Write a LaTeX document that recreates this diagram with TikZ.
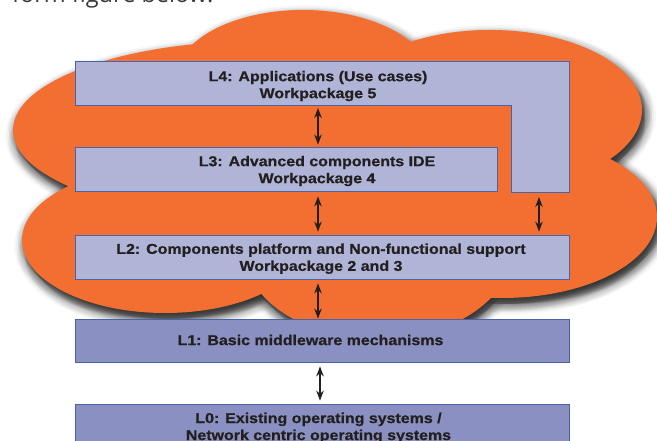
\documentclass[tikz,border=0pt]{standalone}
\usepackage{fontspec}
\newfontfamily\labfont{Liberation Sans}[FakeStretch=1.12, BoldFeatures={FakeBold=0.8}]
\newfontfamily\topfont{Open Sans}
\usetikzlibrary{arrows.meta}
\definecolor{orangec}{HTML}{F36F31}
\definecolor{lightbox}{HTML}{B0B5D7}
\definecolor{darkbox}{HTML}{8A91C2}
\definecolor{boxline}{HTML}{4A62A8}
\definecolor{txt}{HTML}{231F20}
\definecolor{topgray}{HTML}{3A3A3A}
\newcommand\cloudpath{%
  (303,78) ellipse [x radius=127, y radius=68]
  (260,130) ellipse [x radius=247, y radius=89]
  (490,110) ellipse [x radius=152, y radius=80]
  (502,217) ellipse [x radius=155, y radius=81]
  (165,240) ellipse [x radius=143, y radius=73]
  (378,250) ellipse [x radius=134, y radius=89]
  (340,175) ellipse [x radius=230, y radius=110]}
\begin{document}
\begin{tikzpicture}[x=1pt,y=-1pt,
  lbox/.style={draw=boxline, line width=0.8pt, inner sep=0pt, fill=lightbox},
  dbox/.style={lbox, fill=darkbox},
  anchorbox/.style={inner sep=0pt, outer sep=0pt},
  lab/.style={font=\labfont\bfseries\fontsize{14.25}{17}\selectfont, text=txt, align=center, inner sep=0pt},
  arr/.style={draw=txt, line width=1.5pt, {Stealth[length=10pt,width=7.5pt]}-{Stealth[length=10pt,width=7.5pt]}}]
\useasboundingbox (0,0) rectangle (657,441);
\clip (0,0) rectangle (657,441);
\fill[white] (0,0) rectangle (657,441);
% intro text (cut off at the top)
\node[anchor=base west, inner sep=0pt, font=\topfont\fontsize{23.5}{28}\selectfont, text=topgray] (intro) at (12,2.5) {form figure below:};
% cloud shadow
\foreach \a in {0,45,...,315}{
  \foreach \r in {1,3,5,7,9,11}{
    \fill[black, opacity=0.032, shift={({3+\r*cos(\a)},{6+\r*sin(\a)})}] \cloudpath;
  }
}
% cloud
\fill[orangec] \cloudpath;
% boxes
\node[anchorbox, minimum width=494pt, minimum height=44pt] (L4) at (322,83) {};
\node[anchorbox, minimum width=58pt, minimum height=131pt] (L4arm) at (540,126.5) {};
\path[lbox] (L4.north west) -- (L4arm.north east) -- (L4arm.south east) -- (L4arm.south west) -- (L4arm.west |- L4.south) -- (L4.south west) -- cycle;
\node[lbox, minimum width=422pt, minimum height=44pt] (L3) at (286,169) {};
\node[lbox, minimum width=494pt, minimum height=44pt] (L2) at (322,257) {};
\node[dbox, minimum width=494pt, minimum height=43pt] (L1) at (322,340.5) {};
\node[dbox, minimum width=494pt, minimum height=44pt] (L0) at (322,426) {};
% labels
\node[lab] (t4) at (318,86) {L4: Applications (Use cases)\\Workpackage 5};
\node[lab] (t3) at (317,171) {L3: Advanced components IDE\\Workpackage 4};
\node[lab] (t2) at (321,258.7) {L2: Components platform and Non-functional support\\Workpackage 2 and 3};
\node[lab] (t1) at (310.5,340) {L1: Basic middleware mechanisms};
\node[lab] (t0) at (318.5,427.9) {L0: Existing operating systems /\\Network centric operating systems};
% arrows
\coordinate (ax) at (318,0);
\coordinate (bx) at (539,0);
\coordinate (cx) at (320,0);
\draw[arr] ([yshift=-3pt]L4.south -| ax) -- ([yshift=2pt]L3.north -| ax);
\draw[arr] ([yshift=-5pt]L3.south -| ax) -- ([yshift=3pt]L2.north -| ax);
\draw[arr] ([yshift=-4pt]L2.south -| ax) -- (L1.north -| ax);
\draw[arr] ([yshift=-4pt]L1.south -| cx) -- ([yshift=3pt]L0.north -| cx);
\draw[arr] ([yshift=-5pt]L4arm.south -| bx) -- ([yshift=3pt]L2.north -| bx);
\end{tikzpicture}
\end{document}
